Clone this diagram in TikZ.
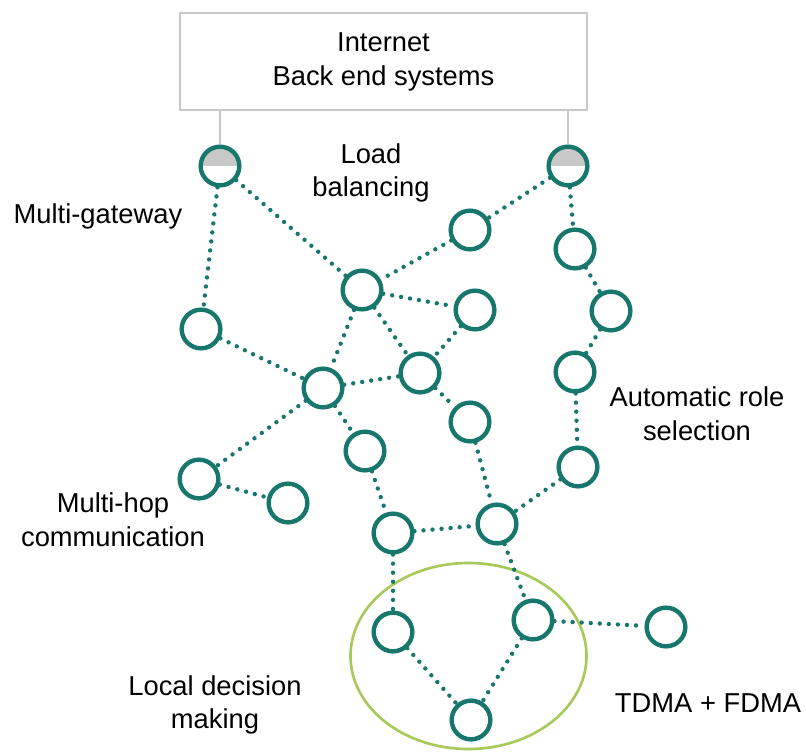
\documentclass[tikz,border=0pt]{standalone}
\usepackage{fontspec}
\setmainfont{Liberation Sans}
\definecolor{meshteal}{HTML}{18776D}
\definecolor{zonegreen}{HTML}{A8C95C}
\definecolor{wiregray}{HTML}{C8C8C8}
\begin{document}
\begin{tikzpicture}[x=0.75pt, y=-0.75pt,
  mote/.style={circle, draw=meshteal, line width=3.3pt, minimum size=29pt,
    inner sep=0pt, fill=white},
  gateway/.style={mote, path picture={\fill[wiregray]
    (path picture bounding box.west) rectangle (path picture bounding box.north east);}},
  hop/.style={meshteal, line width=3.3pt, line cap=round, dash pattern=on 0pt off 6.8pt},
  wire/.style={wiregray, line width=1.5pt},
  lbl/.style={font=\fontsize{20.5}{25.3}\selectfont, align=center, inner sep=0pt},
  backend/.style={draw=wiregray, line width=1.5pt, minimum width=305pt,
    minimum height=72.75pt, inner sep=0pt, font=\fontsize{20.5}{25.6}\selectfont, align=center}]
\useasboundingbox (0,0) rectangle (806,753);

% cluster that decides locally
\draw[zonegreen, line width=2pt] (468.5,656) ellipse [x radius=88.5pt, y radius=69.75pt];

% back end
\node[backend] (box) at (383.5,61.5) {Internet\\Back end systems};

% gateways and motes
\node[gateway] (G1) at (220,166) {};
\node[gateway] (G2) at (568,166) {};
\node[mote] (A) at (470,230) {};
\node[mote] (B) at (575,249) {};
\node[mote] (C) at (611,311) {};
\node[mote] (D) at (362,290) {};
\node[mote] (E) at (475,310) {};
\node[mote] (F) at (201,329) {};
\node[mote] (H) at (323,388) {};
\node[mote] (I) at (420,373) {};
\node[mote] (J) at (575,372) {};
\node[mote] (K) at (470,422) {};
\node[mote] (L) at (365,451) {};
\node[mote] (M) at (578,467) {};
\node[mote] (N) at (199,479) {};
\node[mote] (O) at (288,503) {};
\node[mote] (P) at (393,533) {};
\node[mote] (Q) at (497,524) {};
\node[mote] (R) at (393,632) {};
\node[mote] (S) at (533,620) {};
\node[mote] (T) at (666,627) {};
\node[mote] (U) at (471,720) {};

% wired uplinks
\draw[wire] (G1) -- (G1 |- box.south);
\draw[wire] (G2) -- (G2 |- box.south);

% radio links
\foreach \a/\b in {G1/F, G1/D, G2/A, G2/B, A/D, B/C, C/J, J/M, M/Q,
                   D/E, D/H, D/I, E/I, F/H, H/I, H/N, H/L, N/O, I/K,
                   K/Q, L/P, P/Q, P/R, Q/S, S/T, S/U, R/U}
  \draw[hop] (\a) -- (\b);

% annotations
\node[lbl] (lb) at (371,173) {Load\\balancing};
\node[lbl] (mg) at (98,216) {Multi-gateway};
\node[lbl] (ar) at (697,414) {Automatic role\\selection};
\node[lbl] (mh) at (113,520) {Multi-hop\\communication};
\node[lbl] (ld) at (215,705) {Local decision\\making};
\node[lbl] (tf) at (708,703) {TDMA + FDMA};
\end{tikzpicture}
\end{document}
